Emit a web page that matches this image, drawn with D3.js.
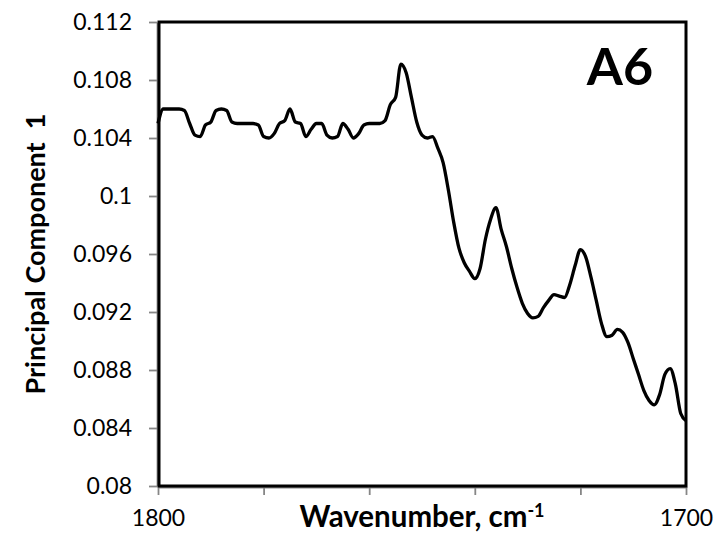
<!DOCTYPE html>
<html>
<head>
<meta charset="utf-8">
<script src="https://cdn.jsdelivr.net/npm/d3@7"></script>
<style>
  body { margin: 0; background: #fff; }
  svg { display: block; }
  text { font-family: Lato, "Liberation Sans", sans-serif; fill: #000; }
</style>
</head>
<body>
<svg id="chart" width="716" height="533"></svg>
<script>
// Wavenumber grid (cm^-1), high to low
const wavenumbers = d3.range(1800, 1699, -1);

// Principal component 1 loading at each wavenumber
const pc1 = [
  0.1050, 0.1060, 0.1060, 0.1060, 0.1060, 0.1059, 0.1050, 0.1042, 0.1041, 0.1049,
  0.1051, 0.1059, 0.1060, 0.1059, 0.1051, 0.1050, 0.1050, 0.1050, 0.1050, 0.1049,
  0.1041, 0.1040, 0.1043, 0.1050, 0.1052, 0.1060, 0.1051, 0.1050, 0.1041, 0.1046,
  0.1050, 0.1050, 0.1042, 0.1040, 0.1041, 0.1050, 0.1046, 0.1040, 0.1043, 0.1049,
  0.1050, 0.1050, 0.1050, 0.1052, 0.1063, 0.1068, 0.1091, 0.1085, 0.1068, 0.1051,
  0.1042, 0.1040, 0.1041, 0.1033, 0.1023, 0.1004, 0.0982, 0.0964, 0.0954, 0.0948,
  0.0943, 0.0950, 0.0970, 0.0984, 0.0992, 0.0977, 0.0965, 0.0950, 0.0937, 0.0926,
  0.0919, 0.0916, 0.0917, 0.0923, 0.0928, 0.0932, 0.0931, 0.0930, 0.0939, 0.0952,
  0.0963, 0.0958, 0.0944, 0.0928, 0.0912, 0.0903, 0.0904, 0.0908, 0.0906, 0.0899,
  0.0888, 0.0877, 0.0866, 0.0859, 0.0856, 0.0863, 0.0877, 0.0881, 0.0870, 0.0850,
  0.0845
];

const yTicks = [0.08, 0.084, 0.088, 0.092, 0.096, 0.1, 0.104, 0.108, 0.112];
const yTickLabels = ["0.08", "0.084", "0.088", "0.092", "0.096", "0.1", "0.104", "0.108", "0.112"];
const xTicks = [1800, 1780, 1760, 1740, 1720, 1700];
const xLabelled = [1800, 1700];

const panelLabel = "A6";
const yTitle = "Principal Component  1";

const W = 716, H = 533;
const margin = { top: 22, right: 30, bottom: 47, left: 158 };

const svg = d3.select("#chart");

const x = d3.scaleLinear().domain([1800, 1700]).range([margin.left, W - margin.right]);
const y = d3.scaleLinear().domain([0.08, 0.112]).range([H - margin.bottom, margin.top]);

const axisGrey = "#868686";

// Y axis
const yAxis = svg.append("g")
  .attr("transform", `translate(${margin.left - 1},0)`)
  .call(d3.axisLeft(y)
    .tickValues(yTicks)
    .tickFormat((d, i) => yTickLabels[i])
    .tickSize(8)
    .tickSizeOuter(0)
    .tickPadding(17));
yAxis.selectAll("path, line").attr("stroke", axisGrey).attr("stroke-width", 1.8);
yAxis.selectAll("text").style("font-size", "23px").attr("fill", "#000");

// X axis
const xAxis = svg.append("g")
  .attr("transform", `translate(0,${H - margin.bottom + 1})`)
  .call(d3.axisBottom(x)
    .tickValues(xTicks)
    .tickFormat(d => xLabelled.includes(d) ? String(d) : "")
    .tickSize(8)
    .tickSizeOuter(0)
    .tickPadding(15));
xAxis.selectAll("path, line").attr("stroke", axisGrey).attr("stroke-width", 1.8);
xAxis.selectAll("text").style("font-size", "23px").attr("fill", "#000");

// Plot-area frame
svg.append("rect")
  .attr("x", x(1800) + 1)
  .attr("y", y(0.112))
  .attr("width", x(1700) - x(1800) - 1)
  .attr("height", y(0.08) - y(0.112))
  .attr("fill", "none")
  .attr("stroke", "#000")
  .attr("stroke-width", 3);

// Spectrum trace
const line = d3.line()
  .x((d, i) => x(wavenumbers[i]))
  .y(d => y(d))
  .curve(d3.curveMonotoneX);

svg.append("path")
  .datum(pc1)
  .attr("d", line)
  .attr("fill", "none")
  .attr("stroke", "#000")
  .attr("stroke-width", 3.3)
  .attr("stroke-linejoin", "round");

// Panel label
svg.append("text")
  .attr("x", 620)
  .attr("y", 85)
  .attr("text-anchor", "middle")
  .style("font-size", "52px")
  .style("font-weight", "bold")
  .text(panelLabel);

// Axis titles
const xt = svg.append("text")
  .attr("x", 422)
  .attr("y", 527)
  .attr("text-anchor", "middle")
  .style("font-size", "29.5px")
  .style("font-weight", "bold");
xt.append("tspan").text("Wavenumber, cm");
xt.append("tspan").attr("dy", "-0.55em").style("font-size", "18px").text("-1");

svg.append("text")
  .attr("transform", `translate(45,${(margin.top + H - margin.bottom) / 2}) rotate(-90)`)
  .attr("text-anchor", "middle")
  .style("font-size", "27px")
  .style("font-weight", "bold")
  .style("white-space", "pre")
  .text(yTitle);
</script>
</body>
</html>
